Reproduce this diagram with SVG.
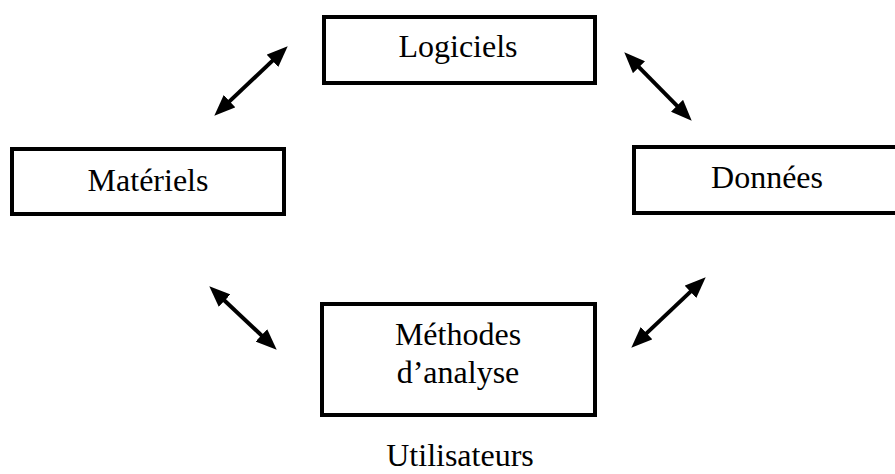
<svg xmlns="http://www.w3.org/2000/svg" width="895" height="474" viewBox="0 0 895 474">
<style>
.box{fill:#fff;stroke:#000;stroke-width:4}
.lbl{font-family:"Liberation Serif","Times New Roman",serif;font-size:32px;fill:#000;text-anchor:middle}
.arr{stroke:#000;stroke-width:4;fill:none;marker-start:url(#ah);marker-end:url(#ah)}
</style>
<defs>
<marker id="ah" markerUnits="userSpaceOnUse" markerWidth="21" markerHeight="17" refX="10" refY="8.5" orient="auto-start-reverse" viewBox="0 0 21 17">
<path d="M0,0 L21,8.5 L0,17 z" fill="#000"/>
</marker>
</defs>
<rect width="895" height="474" fill="#fff"/>
<g id="logiciels">
<rect class="box" x="324" y="17" width="271" height="66"/>
<text class="lbl" x="458" y="57">Logiciels</text>
</g>
<g id="materiels">
<rect class="box" x="12" y="149" width="272" height="65"/>
<text class="lbl" x="148" y="191">Matériels</text>
</g>
<g id="donnees">
<rect class="box" x="634" y="147" width="300" height="66"/>
<text class="lbl" x="767" y="188">Données</text>
</g>
<g id="methodes">
<rect class="box" x="322" y="304" width="273" height="111"/>
<text class="lbl" x="458" y="345">Méthodes</text>
<text class="lbl" x="458" y="383">d’analyse</text>
</g>
<g id="utilisateurs">
<text class="lbl" x="460" y="466">Utilisateurs</text>
</g>
<g id="connectors">
<line class="arr" x1="222.3" y1="108.1" x2="279.7" y2="53.9"/>
<line class="arr" x1="632" y1="60.1" x2="684" y2="112.9"/>
<line class="arr" x1="217.3" y1="293.8" x2="268.7" y2="342.2"/>
<line class="arr" x1="697.7" y1="284.9" x2="639.3" y2="340.1"/>
</g>
</svg>
